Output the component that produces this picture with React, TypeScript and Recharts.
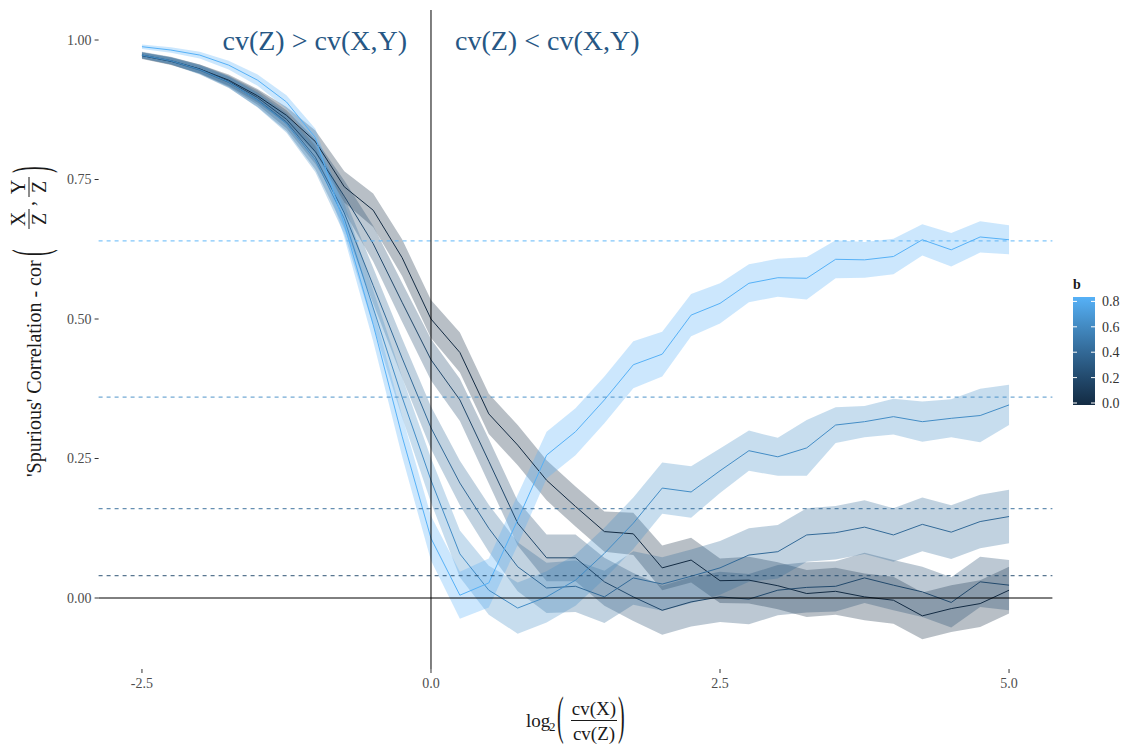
import React from 'react';
import { ComposedChart, Area, Line, XAxis, YAxis, ReferenceLine } from 'recharts';

// log2(cv(X)/cv(Z)) grid
const xs = [
  -2.5, -2.25, -2.0, -1.75, -1.5, -1.25, -1.0, -0.75, -0.5, -0.25, 0.0,
  0.25, 0.5, 0.75, 1.0, 1.25, 1.5, 1.75, 2.0, 2.25, 2.5,
  2.75, 3.0, 3.25, 3.5, 3.75, 4.0, 4.25, 4.5, 4.75, 5.0,
];

// mean spurious correlation for each b
const meanB00 = [
  0.972, 0.962, 0.948, 0.928, 0.900, 0.865, 0.818, 0.737, 0.695, 0.610, 0.500,
  0.440, 0.330, 0.274, 0.211, 0.164, 0.119, 0.115, 0.054, 0.068, 0.031,
  0.032, 0.022, 0.008, 0.012, 0.002, -0.004, -0.032, -0.019, -0.010, 0.014,
];
const meanB02 = [
  0.973, 0.963, 0.948, 0.926, 0.897, 0.858, 0.800, 0.720, 0.635, 0.530, 0.427,
  0.355, 0.245, 0.134, 0.072, 0.072, 0.029, 0.002, -0.022, -0.007, 0.002,
  -0.002, 0.014, 0.019, 0.021, 0.036, 0.023, 0.011, -0.008, 0.029, 0.023,
];
const meanB04 = [
  0.972, 0.962, 0.946, 0.924, 0.893, 0.853, 0.790, 0.690, 0.560, 0.430, 0.305,
  0.206, 0.125, 0.056, 0.018, 0.021, 0.002, 0.036, 0.025, 0.039, 0.054,
  0.077, 0.083, 0.113, 0.117, 0.127, 0.113, 0.132, 0.118, 0.137, 0.146,
];
const meanB06 = [
  0.973, 0.963, 0.947, 0.925, 0.892, 0.850, 0.785, 0.680, 0.520, 0.360, 0.211,
  0.079, 0.014, -0.018, 0.002, 0.032, 0.080, 0.134, 0.197, 0.190, 0.228,
  0.264, 0.253, 0.269, 0.310, 0.316, 0.325, 0.316, 0.322, 0.327, 0.346,
];
const meanB08 = [
  0.988, 0.982, 0.973, 0.955, 0.928, 0.889, 0.825, 0.670, 0.490, 0.290, 0.107,
  0.005, 0.027, 0.140, 0.256, 0.298, 0.355, 0.418, 0.437, 0.507, 0.528,
  0.564, 0.574, 0.573, 0.607, 0.606, 0.612, 0.642, 0.624, 0.647, 0.642,
];

// half-width of the confidence band for each b
const ciB00 = [
  0.006, 0.007, 0.008, 0.010, 0.012, 0.015, 0.020, 0.028, 0.030, 0.033, 0.034,
  0.036, 0.036, 0.036, 0.036, 0.036, 0.036, 0.038, 0.040, 0.040, 0.040,
  0.042, 0.042, 0.042, 0.042, 0.042, 0.042, 0.042, 0.042, 0.042, 0.042,
];
const ciB02 = [
  0.006, 0.007, 0.008, 0.010, 0.013, 0.016, 0.022, 0.028, 0.032, 0.035, 0.037,
  0.038, 0.040, 0.040, 0.042, 0.042, 0.043, 0.043, 0.044, 0.044, 0.045,
  0.045, 0.045, 0.045, 0.045, 0.045, 0.045, 0.045, 0.045, 0.045, 0.045,
];
const ciB04 = [
  0.005, 0.006, 0.008, 0.010, 0.013, 0.016, 0.022, 0.028, 0.032, 0.035, 0.038,
  0.040, 0.042, 0.044, 0.045, 0.046, 0.047, 0.048, 0.048, 0.048, 0.048,
  0.048, 0.048, 0.048, 0.048, 0.048, 0.048, 0.048, 0.048, 0.048, 0.048,
];
const ciB06 = [
  0.005, 0.006, 0.008, 0.010, 0.013, 0.016, 0.022, 0.028, 0.032, 0.036, 0.040,
  0.042, 0.044, 0.046, 0.046, 0.046, 0.046, 0.046, 0.046, 0.046, 0.040,
  0.036, 0.034, 0.050, 0.032, 0.028, 0.032, 0.036, 0.034, 0.048, 0.036,
];
const ciB08 = [
  0.004, 0.005, 0.006, 0.008, 0.010, 0.012, 0.016, 0.024, 0.030, 0.036, 0.040,
  0.042, 0.044, 0.045, 0.042, 0.042, 0.042, 0.042, 0.040, 0.038, 0.036,
  0.034, 0.034, 0.038, 0.034, 0.032, 0.032, 0.028, 0.030, 0.028, 0.026,
];

const bValues = [0, 0.2, 0.4, 0.6, 0.8];
const yTicks = [0, 0.25, 0.5, 0.75, 1.0];
const xTicks = [-2.5, 0, 2.5, 5.0];

// ggplot's default gradient (#132B43 -> #56B1F7) evaluated at each b
const bColors = ['#132B43', '#22496C', '#336A98', '#448DC6', '#56B1F7'];

const means = [meanB00, meanB02, meanB04, meanB06, meanB08];
const cis = [ciB00, ciB02, ciB04, ciB06, ciB08];

const data = xs.map((x, i) => {
  const row: Record<string, number | number[]> = { x };
  means.forEach((m, k) => {
    row[`m${k}`] = m[i];
    row[`r${k}`] = [m[i] - cis[k][i], m[i] + cis[k][i]];
  });
  return row;
});

const SERIF = "'Liberation Serif', 'Times New Roman', serif";

// plot box in page pixels
const W = 1123;
const H = 749;
const PLOT_TOP = 10;
const PLOT_BOTTOM = 669;
const PLOT_LEFT = 98.6;
const PLOT_RIGHT = 1052.4;
const Y_AXIS_W = 60;
const X_AXIS_H = 40;

function RegionLabels(props: any) {
  const vb = props.viewBox || {};
  const x = vb.x ?? 0;
  const y = 50;
  return (
    <g fontFamily={SERIF} fontSize={28} fill="#275784">
      <text x={x - 24} y={y} textAnchor="end">cv(Z) &gt; cv(X,Y)</text>
      <text x={x + 24} y={y} textAnchor="start">cv(Z) &lt; cv(X,Y)</text>
    </g>
  );
}

// tall, thin bracket glyph as used by plotmath's bgroup
function Paren({ x, y, ch, sy }: { x: number; y: number; ch: string; sy: number }) {
  return (
    <text transform={`translate(${x},${y}) scale(1,${sy})`} fontSize={20}>
      {ch}
    </text>
  );
}

function YTitle() {
  return (
    <g transform="translate(41,477) rotate(-90)" fontFamily={SERIF} fill="#1a1a1a">
      <text x={0} y={0} fontSize={20}>'Spurious' Correlation - cor</text>
      <Paren x={221} y={6} ch="(" sy={2.5} />
      <text x={258} y={-16} fontSize={20} textAnchor="middle">X</text>
      <line x1={248} x2={268} y1={-12} y2={-12} stroke="#1a1a1a" strokeWidth={1} />
      <text x={258} y={5} fontSize={20} textAnchor="middle">Z</text>
      <text x={271} y={-7} fontSize={20}>,</text>
      <text x={290} y={-16} fontSize={20} textAnchor="middle">Y</text>
      <line x1={280} x2={300} y1={-12} y2={-12} stroke="#1a1a1a" strokeWidth={1} />
      <text x={290} y={5} fontSize={20} textAnchor="middle">Z</text>
      <Paren x={304} y={6} ch=")" sy={2.5} />
    </g>
  );
}

function XTitle() {
  return (
    <g fontFamily={SERIF} fill="#1a1a1a">
      <text x={526} y={727} fontSize={19}>log</text>
      <text x={549} y={731} fontSize={13}>2</text>
      <Paren x={557} y={732.8} ch="(" sy={2.6} />
      <text x={594} y={715} fontSize={19} textAnchor="middle">cv(X)</text>
      <line x1={571} x2={617} y1={720.5} y2={720.5} stroke="#1a1a1a" strokeWidth={1} />
      <text x={594} y={740} fontSize={19} textAnchor="middle">cv(Z)</text>
      <Paren x={618} y={732.8} ch=")" sy={2.6} />
    </g>
  );
}

function ColorBar() {
  const x0 = 1073;
  const x1 = 1095;
  const top = 297;
  const bottom = 405;
  const tickY = (b: number) => 403 - (b / 0.8) * 101.6;
  return (
    <g fontFamily={SERIF}>
      <defs>
        <linearGradient id="bgrad" x1="0" y1="1" x2="0" y2="0">
          {bColors.map((c, i) => (
            <stop key={i} offset={`${(i / (bColors.length - 1)) * 100}%`} stopColor={c} />
          ))}
        </linearGradient>
      </defs>
      <text x={1073} y={289} fontSize={14} fontWeight="bold" fill="#1a1a1a">b</text>
      <rect x={x0} y={top} width={x1 - x0} height={bottom - top} fill="url(#bgrad)" />
      {bValues.map((b) => (
        <g key={b}>
          <line x1={x0} x2={x0 + 4} y1={tickY(b)} y2={tickY(b)} stroke="#fff" strokeWidth={1} />
          <line x1={x1 - 4} x2={x1} y1={tickY(b)} y2={tickY(b)} stroke="#fff" strokeWidth={1} />
          <text x={1102} y={tickY(b) + 5} fontSize={14} fill="#333">{b.toFixed(1)}</text>
        </g>
      ))}
    </g>
  );
}

export default function App() {
  const yMax = (598 - PLOT_TOP) / 558;
  const yMin = (598 - PLOT_BOTTOM) / 558;
  return (
    <div
      style={{
        position: 'absolute',
        left: 0,
        top: 0,
        width: W,
        height: H,
        background: '#fff',
        fontFamily: SERIF,
      }}
    >
      <style>{`.recharts-text, .recharts-cartesian-axis-tick-value { font-family: ${SERIF}; }`}</style>
      <ComposedChart
        width={W}
        height={H}
        data={data}
        style={{ fontFamily: SERIF }}
        margin={{
          top: PLOT_TOP,
          right: W - PLOT_RIGHT,
          bottom: H - PLOT_BOTTOM - X_AXIS_H,
          left: PLOT_LEFT - Y_AXIS_W,
        }}
      >
        <XAxis
          type="number"
          dataKey="x"
          domain={[-2.875, 5.375]}
          ticks={xTicks}
          tickFormatter={(v: number) => v.toFixed(1)}
          allowDataOverflow
          axisLine={false}
          tickLine={{ stroke: '#333' }}
          tickSize={4}
          tickMargin={5}
          height={X_AXIS_H}
          tick={{ fill: '#4d4d4d', fontSize: 14, fontFamily: SERIF }}
        />
        <YAxis
          type="number"
          domain={[yMin, yMax]}
          ticks={yTicks}
          tickFormatter={(v: number) => v.toFixed(2)}
          allowDataOverflow
          axisLine={false}
          tickLine={{ stroke: '#333' }}
          tickSize={4}
          tickMargin={3}
          width={Y_AXIS_W}
          tick={{ fill: '#4d4d4d', fontSize: 14, fontFamily: SERIF }}
        />
        {bValues.map((b, k) => (
          <Area
            key={`band-${k}`}
            type="linear"
            dataKey={`r${k}`}
            stroke="none"
            fill={bColors[k]}
            fillOpacity={0.3}
            isAnimationActive={false}
            activeDot={false}
          />
        ))}
        {bValues.map((b, k) => (
          <Line
            key={`line-${k}`}
            type="linear"
            dataKey={`m${k}`}
            stroke={bColors[k]}
            strokeWidth={1}
            dot={false}
            activeDot={false}
            isAnimationActive={false}
          />
        ))}
        {bValues.slice(1).map((b, k) => (
          <ReferenceLine
            key={`sq-${k}`}
            y={b * b}
            stroke={bColors[k + 1]}
            strokeOpacity={0.75}
            strokeDasharray="4 4"
            strokeWidth={1.2}
          />
        ))}
        <ReferenceLine y={0} stroke="#000" strokeWidth={1} />
        <ReferenceLine x={0} stroke="#000" strokeWidth={1} label={RegionLabels} />
      </ComposedChart>
      <svg
        width={W}
        height={H}
        style={{ position: 'absolute', left: 0, top: 0, pointerEvents: 'none' }}
      >
        <YTitle />
        <XTitle />
        <ColorBar />
      </svg>
    </div>
  );
}
